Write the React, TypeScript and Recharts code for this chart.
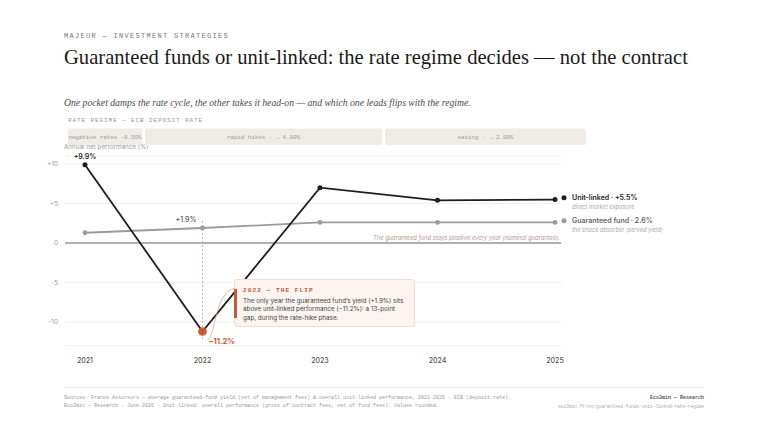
import React from 'react';
import {
  LineChart,
  Line,
  XAxis,
  YAxis,
  CartesianGrid,
  ReferenceLine,
  ReferenceArea,
  LabelList,
} from 'recharts';

// ---------- data ----------
const years = [2021, 2022, 2023, 2024, 2025];
const unitLinked = [9.9, -11.2, 7.0, 5.4, 5.5];
const guaranteed = [1.3, 1.9, 2.6, 2.6, 2.6];
const yTicks = [-10, -5, 0, 5, 10];
const unitTopLabels = ['+9.9%', '', '', '', ''];
const unitLowLabels = ['', '−11.2%', '', '', ''];
const guarLeftLabels = ['', '+1.9%', '', '', ''];
const seriesNames = ['Unit-linked · +5.5%', 'Guaranteed fund · 2.6%'];
const seriesNotes = ['direct market exposure', 'the shock absorber (served yield)'];
const regimeLabels = ['negative rates -0.50%', 'rapid hikes · → 4.00%', 'easing · → 2.00%'];
const regimeStart = [2020.855, 2021.51, 2023.553];
const regimeEnd = [2021.485, 2023.528, 2025.264];
const flipYear = 2022;
const flipGuaranteed = 1.9;
const flipUnit = -11.2;

const last = years.length - 1;
const data = years.map((year, i) => ({
  year,
  unit: unitLinked[i],
  guar: guaranteed[i],
  uTop: unitTopLabels[i],
  uLow: unitLowLabels[i],
  gLeft: guarLeftLabels[i],
  uEnd: i === last ? seriesNames[0] : '',
  gEnd: i === last ? seriesNames[1] : '',
}));

// ---------- style ----------
const ORANGE = '#c65a34';
const DARK = '#1e1e1e';
const GREY = '#9b9b9b';
const SANS = 'Inter, "Noto Sans", sans-serif';
const MONO = '"Liberation Mono", "DejaVu Sans Mono", monospace';
const SERIF = '"Liberation Serif", "DejaVu Serif", serif';

const pt = (p: any) => ({
  x: p.x ?? p.viewBox?.x,
  y: p.y ?? p.viewBox?.y,
});

const TopLabel = (p: any) => {
  if (!p.value) return null;
  const { x, y } = pt(p);
  return (
    <text x={x} y={y - 8} textAnchor="middle" dominantBaseline="central" fontFamily={SANS} fontSize={7} fontWeight={600} fill={DARK}>
      {p.value}
    </text>
  );
};

const LowLabel = (p: any) => {
  if (!p.value) return null;
  const { x, y } = pt(p);
  return (
    <text x={x + 6} y={y + 10} textAnchor="start" dominantBaseline="central" fontFamily={SANS} fontSize={7.5} fontWeight={700} fill={ORANGE}>
      {p.value}
    </text>
  );
};

const LeftLabel = (p: any) => {
  if (!p.value) return null;
  const { x, y } = pt(p);
  return (
    <text x={x - 6} y={y - 8} textAnchor="end" dominantBaseline="central" fontFamily={SANS} fontSize={7} fontWeight={500} fill="#555">
      {p.value}
    </text>
  );
};

const makeEnd = (dotColor: string, textColor: string, note: string) => (p: any) => {
  if (!p.value) return null;
  const { x, y } = pt(p);
  return (
    <g>
      <circle cx={x + 9} cy={y - 1.8} r={2.5} fill={dotColor} />
      <text x={x + 17} y={y - 2} dominantBaseline="central" fontFamily={SANS} fontSize={7} fontWeight={600} fill={textColor}>
        {p.value}
      </text>
      <text x={x + 17} y={y + 7} dominantBaseline="central" fontFamily={SANS} fontSize={5.7} fontStyle="italic" fill="#aaa">
        {note}
      </text>
    </g>
  );
};
const UnitEnd = makeEnd(DARK, '#222', seriesNotes[0]);
const GuarEnd = makeEnd(GREY, '#666', seriesNotes[1]);

const UnitDot = (p: any) => {
  const { cx, cy, index, payload } = p;
  if (cx == null || cy == null) return <g key={`ud${index}`} />;
  const flip = payload && payload.year === flipYear;
  return <circle key={`ud${index}`} cx={cx} cy={cy} r={flip ? 4.3 : 2.5} fill={flip ? ORANGE : DARK} />;
};

const ZeroNote = (p: any) => {
  const vb = p.viewBox || {};
  const right = (vb.x ?? 0) + (vb.width ?? 0);
  return (
    <text x={right - 1} y={(vb.y ?? 0) - 5.5} textAnchor="end" dominantBaseline="central" fontFamily={SANS} fontSize={5.8} fontStyle="italic" fill="#b29a93">
      The guaranteed fund stays positive every year (nominal guarantee).
    </text>
  );
};

const abs = (left: number, top: number, extra: React.CSSProperties = {}): React.CSSProperties => ({
  position: 'absolute',
  left,
  top,
  whiteSpace: 'nowrap',
  margin: 0,
  ...extra,
});

export default function App() {
  const bandLow = 12.4;
  const bandHigh = 14.5;
  return (
    <div style={{ position: 'absolute', left: 0, top: 0, width: 768, height: 432, background: '#fff', overflow: 'hidden' }}>
      <div style={abs(64, 31, { fontFamily: MONO, fontSize: 7, lineHeight: '10px', letterSpacing: 1.3, color: '#777' })}>
        MAJEUR — INVESTMENT STRATEGIES
      </div>
      <div style={abs(64, 45, { fontFamily: SERIF, fontSize: 20.6, lineHeight: '24px', color: '#1a1a1a' })}>
        Guaranteed funds or unit-linked: the rate regime decides — not the contract
      </div>
      <div style={abs(64, 96, { fontFamily: SERIF, fontStyle: 'italic', fontSize: 9.7, lineHeight: '14px', color: '#4a4a4a' })}>
        One pocket damps the rate cycle, the other takes it head-on — and which one leads flips with the regime.
      </div>
      <div style={abs(68, 116, { fontFamily: MONO, fontSize: 6, lineHeight: '10px', letterSpacing: 0.9, color: '#999' })}>
        RATE REGIME — ECB DEPOSIT RATE
      </div>
      <div style={abs(64, 143, { fontFamily: SANS, fontSize: 6.3, lineHeight: '8px', color: '#999' })}>
        Annual net performance (%)
      </div>

      <div style={{ position: 'absolute', left: 0, top: 0 }}>
        <LineChart width={768} height={432} data={data} margin={{ top: 156.1, right: 207, bottom: 56.3, left: 35 }}>
          <CartesianGrid vertical={false} stroke="#efefef" strokeWidth={1} />
          {regimeLabels.map((lab, i) => (
            <ReferenceArea
              key={lab}
              x1={regimeStart[i]}
              x2={regimeEnd[i]}
              y1={bandLow}
              y2={bandHigh}
              ifOverflow="visible"
              fill="#eeece7"
              fillOpacity={1}
              stroke="none"
              radius={2}
              label={{ value: lab, position: 'center', fill: '#9a9a9a', fontSize: 5.8, fontFamily: MONO }}
            />
          ))}
          <XAxis
            dataKey="year"
            type="number"
            domain={[2020.83, 2025.051]}
            ticks={years}
            allowDataOverflow
            tickLine={false}
            axisLine={false}
            tickMargin={6}
            height={30}
            tick={{ fontSize: 7, fill: '#555', fontFamily: SANS, fontWeight: 500 }}
          />
          <YAxis
            type="number"
            domain={[-13, 11]}
            ticks={yTicks}
            allowDataOverflow
            tickLine={false}
            axisLine={false}
            tickSize={0}
            tickMargin={7}
            width={30}
            tickFormatter={(v: number) => (v > 0 ? `+${v}` : `${v}`)}
            tick={{ fontSize: 6.5, fill: '#999', fontFamily: SANS }}
          />
          <ReferenceLine y={0} stroke="#6b6b6b" strokeWidth={1.2} label={ZeroNote} />
          <ReferenceLine
            segment={[
              { x: flipYear, y: flipGuaranteed + 0.9 },
              { x: flipYear, y: flipUnit - 1.1 },
            ]}
            stroke="#e29377"
            strokeWidth={0.8}
            strokeDasharray="2 2"
            ifOverflow="visible"
          />
          <Line
            dataKey="guar"
            stroke={GREY}
            strokeWidth={1.8}
            dot={{ r: 2.4, fill: GREY, stroke: 'none' }}
            activeDot={false}
            isAnimationActive={false}
          >
            <LabelList dataKey="gLeft" content={LeftLabel} />
            <LabelList dataKey="gEnd" content={GuarEnd} />
          </Line>
          <Line
            dataKey="unit"
            stroke={DARK}
            strokeWidth={1.8}
            dot={UnitDot}
            activeDot={false}
            isAnimationActive={false}
          >
            <LabelList dataKey="uTop" content={TopLabel} />
            <LabelList dataKey="uLow" content={LowLabel} />
            <LabelList dataKey="uEnd" content={UnitEnd} />
          </Line>
        </LineChart>
      </div>

      <svg width={768} height={432} style={{ position: 'absolute', left: 0, top: 0, pointerEvents: 'none' }}>
        <path d="M207,340 C216,338 214,292 235,288" fill="none" stroke="#e6a58d" strokeWidth={0.8} />
      </svg>

      <div
        style={{
          position: 'absolute',
          left: 234,
          top: 279,
          width: 181,
          height: 48,
          boxSizing: 'border-box',
          background: '#fbf4f1',
          border: '1px solid #f1ddd4',
          borderRadius: 3,
        }}
      />
      <div style={{ position: 'absolute', left: 234, top: 289, width: 2.5, height: 29, background: ORANGE }} />
      <div style={abs(243, 286, { fontFamily: MONO, fontSize: 6.2, lineHeight: '9px', letterSpacing: 1, fontWeight: 700, color: ORANGE })}>
        2022 — THE FLIP
      </div>
      <div style={abs(243, 296.5, { fontFamily: SANS, fontSize: 6.3, lineHeight: '8.5px', color: '#444' })}>
        The only year the guaranteed fund’s yield (+1.9%) sits
        <br />
        above unit-linked performance (−11.2%): a 13-point
        <br />
        gap, during the rate-hike phase.
      </div>

      <div style={{ position: 'absolute', left: 64, top: 387, width: 640, height: 1, background: '#e8e8e8' }} />
      <div style={abs(64, 395, { fontFamily: MONO, fontSize: 5, lineHeight: '7px', color: '#999' })}>
        Sources: France Assureurs — average guaranteed-fund yield (net of management fees) &amp; overall unit-linked performance, 2021–2025 · ECB (deposit rate).
      </div>
      <div style={abs(64, 403, { fontFamily: MONO, fontSize: 5, lineHeight: '7px', color: '#999' })}>
        Eco3min — Research · June 2026 · Unit-linked: overall performance (gross of contract fees, net of fund fees). Values rounded.
      </div>
      <div style={{ ...abs(0, 395, { fontFamily: MONO, fontSize: 5, lineHeight: '7px', fontWeight: 700, color: '#555' }), left: undefined, right: 64 }}>
        Eco3min — Research
      </div>
      <div style={{ ...abs(0, 403, { fontFamily: MONO, fontSize: 4.5, lineHeight: '7px', color: '#aaa' }), left: undefined, right: 64 }}>
        eco3min.fr/en/guaranteed-funds-unit-linked-rate-regime
      </div>
    </div>
  );
}
